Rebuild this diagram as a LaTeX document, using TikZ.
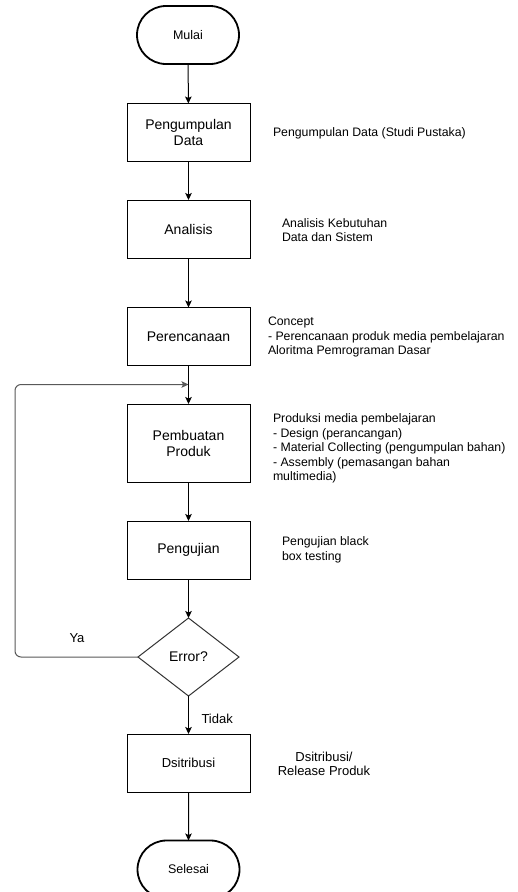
\documentclass[tikz,border=0pt]{standalone}
\usepackage{fontspec}
\setmainfont{Liberation Sans}
\usetikzlibrary{arrows.meta,shapes.geometric,shapes.misc}
\tikzset{
  every node/.style={inner sep=0pt, outer sep=0pt},
  procbox/.style={draw, rectangle, line width=1pt, minimum width=123pt, minimum height=58pt,
    align=center, font=\fontsize{14}{16}\selectfont},
  termbox/.style={draw, rounded rectangle, line width=1.8pt, minimum width=102pt, minimum height=58pt,
    font=\fontsize{12.5}{15}\selectfont},
  decide/.style={draw=black!80, diamond, line width=1pt, minimum width=101pt, minimum height=78pt,
    font=\fontsize{14}{16}\selectfont},
  note/.style={anchor=west, align=left, font=\fontsize{12.3}{14.5}\selectfont},
  flow/.style={line width=1pt, -{Stealth[length=7pt,width=6.5pt,inset=1.5pt]}},
  loopline/.style={draw=black!65, line width=1pt, rounded corners=6pt,
    -{Stealth[length=7pt,width=6.5pt,inset=1.5pt]}},
  edgelabel/.style={font=\fontsize{13}{15}\selectfont}
}
\begin{document}
\begin{tikzpicture}[x=1pt,y=-1pt]
\useasboundingbox[fill=white] (0,0) rectangle (518,892);

% main column of steps
\node[termbox] (start) at (188,35) {Mulai};
\node[procbox] (collect) at (188.5,132.5) {Pengumpulan\\Data};
\node[procbox] (analyse) at (188.5,229) {Analisis};
\node[procbox] (plan) at (188.5,336.5) {Perencanaan};
\node[procbox, minimum height=78pt] (build) at (188.5,443) {Pembuatan\\Produk};
\node[procbox] (test) at (188.5,550) {Pengujian};
\node[decide] (err) at (188.5,657) {Error?};
\node[procbox, font=\fontsize{13}{15}\selectfont] (dist) at (188.5,763) {Dsitribusi};
\node[termbox] (finish) at (188.5,869.5) {Selesai};

% descriptions beside the steps
\node[note] (n1) at (273,133) {Pengumpulan Data (Studi Pustaka)};
\node[note] (n2) at (282,230) {Analisis Kebutuhan\\Data dan Sistem};
\node[note] (n3) at (268,337) {Concept\\- Perencanaan produk media pembelajaran\\Aloritma Pemrograman Dasar};
\node[note] (n4) at (273,448.5) {Produksi media pembelajaran\\- Design (perancangan)\\- Material Collecting (pengumpulan bahan)\\- Assembly (pemasangan bahan\\multimedia)};
\node[note] (n5) at (282,550) {Pengujian black\\box testing};
\node[note, anchor=center, align=center, font=\fontsize{13}{14.5}\selectfont] (n6) at (324,764) {Dsitribusi/\\Release Produk};

% connectors
\coordinate (merge) at (188.5,384.5);
\draw[flow] (start) -- (collect);
\draw[flow] (collect) -- (analyse);
\draw[flow] (analyse) -- (plan);
\draw[flow] (plan) -- (build);
\draw[flow] (build) -- (test);
\draw[flow] (test) -- (err);
\draw[flow] (err) -- node[edgelabel, anchor=west, xshift=13pt, yshift=-4pt] (no) {Tidak} (dist);
\draw[flow] (dist) -- (finish);

% retry loop back to production
\draw[loopline] (err.west) -- (15,657) -- (15,384.5) -- (merge);
\node[edgelabel] (yes) at (77,638) {Ya};
\end{tikzpicture}
\end{document}
